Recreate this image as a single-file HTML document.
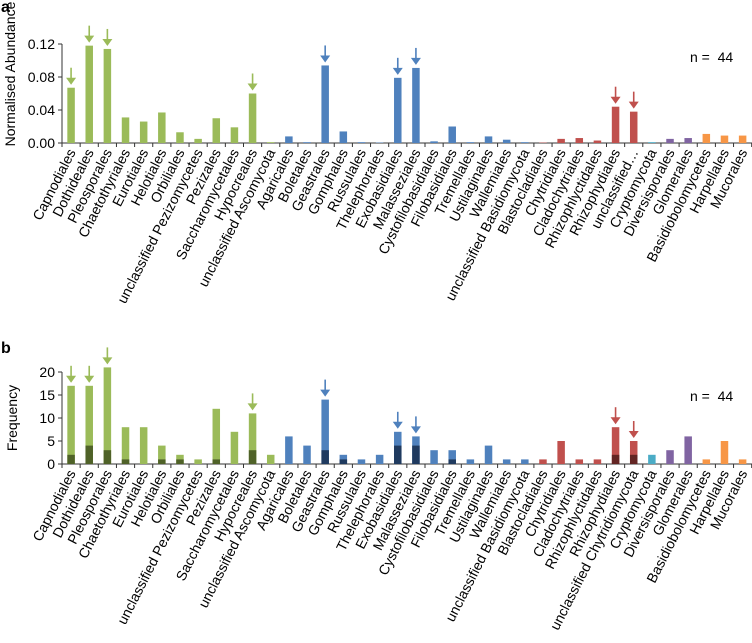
<!DOCTYPE html>
<html><head><meta charset="utf-8"><style>
body{margin:0;background:#fff;}
svg{display:block;font-family:"Liberation Sans",Arial,sans-serif;}
</style></head><body>
<svg id="chart" width="752" height="643" viewBox="0 0 752 643">
<text x="1" y="12" font-size="16" font-weight="bold">a</text>
<text x="1" y="353" font-size="16" font-weight="bold">b</text>
<text transform="translate(15,74) rotate(-90)" text-anchor="middle" font-size="14">Normalised Abundance</text>
<text transform="translate(17,418) rotate(-90)" text-anchor="middle" font-size="14">Frequency</text>
<text x="690" y="62" font-size="14" xml:space="preserve">n =  44</text>
<text x="690" y="401" font-size="14" xml:space="preserve">n =  44</text>
<g id="ga"></g><g id="gb"></g>
</svg>
<script>
const categoriesA = ["Capnodiales","Dothideales","Pleosporales","Chaetothyriales","Eurotiales","Helotiales","Orbiliales","unclassified Pezizomycetes","Pezizales","Saccharomycetales","Hypocreales","unclassified Ascomycota","Agaricales","Boletales","Geastrales","Gomphales","Russulales","Thelephorales","Exobasidiales","Malasseziales","Cystofilobasidiales","Filobasidiales","Tremellales","Ustilaginales","Wallemiales","unclassified Basidiomycota","Blastocladiales","Chytridiales","Cladochytriales","Rhizophlyctidales","Rhizophydiales","unclassified…","Cryptomycota","Diversisporales","Glomerales","Basidiobolomycetes","Harpellales","Mucorales"];
const categoriesB = categoriesA.slice(0,31).concat(["unclassified Chytridiomycota"]).concat(categoriesA.slice(32));
const groups = ["g","g","g","g","g","g","g","g","g","g","g","g","bl","bl","bl","bl","bl","bl","bl","bl","bl","bl","bl","bl","bl","bl","r","r","r","r","r","r","c","p","p","o","o","o"];
const abundance = [0.067,0.118,0.114,0.031,0.026,0.037,0.013,0.005,0.030,0.019,0.060,0.001,0.008,0.001,0.094,0.014,0.001,0.0005,0.079,0.091,0.002,0.020,0.001,0.008,0.004,0.001,0.0005,0.005,0.006,0.003,0.044,0.038,0.001,0.005,0.006,0.011,0.009,0.009];
const frequency = [17,17,21,8,8,4,2,1,12,7,11,2,6,4,14,2,1,2,7,6,3,3,1,4,1,1,1,5,1,1,8,5,2,3,6,1,5,1];
const frequencyDark = [2,4,3,1,0,1,1,0,1,0,3,0,0,0,3,1,0,0,4,4,0,1,0,0,0,0,0,0,0,0,2,2,0,0,0,0,0,0];
const arrowsIdx = [0,1,2,10,14,18,19,30,31];
const ticksA = [0,0.04,0.08,0.12];
const tickLabelsA = ["0.00","0.04","0.08","0.12"];
const ticksB = [0,5,10,15,20];

const col = {g:"#9bbb59",bl:"#4f81bd",r:"#c0504d",c:"#4bacc6",p:"#8064a2",o:"#f79646"};
const dark = {g:"#4f6228",bl:"#1f3a5f",r:"#632523",c:"#215967",p:"#3f3151",o:"#974806"};
const NS="http://www.w3.org/2000/svg";
const x0=62, step=18.15, bw=7.5;
const xC = i => x0 + step*(i+0.5);
function mk(tag, attrs, parent){const e=document.createElementNS(NS,tag);for(const k in attrs)e.setAttribute(k,attrs[k]);parent.appendChild(e);return e;}

function panel(g, base, yScale, ticks, labels, cats, draw, labelTop){
  const yax=mk("line",{x1:x0,x2:x0,y1:yScale(ticks[ticks.length-1]),y2:base,stroke:"#333","stroke-width":1},g);
  
  
  ticks.forEach((t,i)=>{
    const y=yScale(t);
    mk("line",{x1:x0-4,x2:x0,y1:y,y2:y,stroke:"#333"},g);
    const tx=mk("text",{x:x0-7,y:y+5,"text-anchor":"end","font-size":"14"},g);
    tx.textContent=labels[i];
    
    
  });
  const xax=mk("line",{x1:x0,x2:752,y1:base,y2:base,stroke:"#333"},g);
  
  
  for(let i=0;i<=cats.length;i++) mk("line",{x1:x0+step*i,x2:x0+step*i,y1:base,y2:base+4,stroke:"#333"},g);
  cats.forEach((c,i)=>{
    draw(i);
    const tx=mk("text",{transform:`translate(${xC(i)+5},${labelTop}) rotate(-63)`,"text-anchor":"end","font-size":"14"},g);
    tx.textContent=c;
    
    
  });
}
function arrow(g,i,yTop,color){
  const x=xC(i);
  const a=mk("g",{},g);
  
  
  mk("line",{x1:x,x2:x,y1:yTop-20,y2:yTop-8,stroke:color,"stroke-width":1.6},a);
  mk("polygon",{points:`${x-5},${yTop-10} ${x+5},${yTop-10} ${x},${yTop-3}`,fill:color},a);
}
const ga=document.getElementById("ga");
const baseA=143, yA=v=>baseA - v/0.12*99;
panel(ga,baseA,yA,ticksA,tickLabelsA,categoriesA,i=>{
  const y=yA(abundance[i]);
  const r=mk("rect",{x:xC(i)-bw/2,y:y,width:bw,height:baseA-y,fill:col[groups[i]]},ga);
  
  
  if(arrowsIdx.includes(i)) arrow(ga,i,y,col[groups[i]]);
},152);
const gb=document.getElementById("gb");
const baseB=464, yB=v=>baseB - v*4.6;
panel(gb,baseB,yB,ticksB,ticksB.map(String),categoriesB,i=>{
  const y=yB(frequency[i]);
  const r=mk("rect",{x:xC(i)-bw/2,y:y,width:bw,height:baseB-y,fill:col[groups[i]]},gb);
  
  
  if(frequencyDark[i]>0){
    const yd=yB(frequencyDark[i]);
    const d=mk("rect",{x:xC(i)-bw/2,y:yd,width:bw,height:baseB-yd,fill:dark[groups[i]]},gb);
    
    
  }
  if(arrowsIdx.includes(i)) arrow(gb,i,y,col[groups[i]]);
},473);
</script>
</body></html>
